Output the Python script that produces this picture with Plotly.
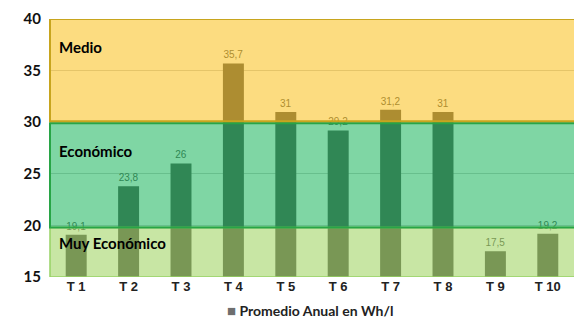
import plotly.graph_objects as go

categories = ["T 1", "T 2", "T 3", "T 4", "T 5", "T 6", "T 7", "T 8", "T 9", "T 10"]
values = [19.1, 23.8, 26, 35.7, 31, 29.2, 31.2, 31, 17.5, 19.2]
series_name = "Promedio Anual en Wh/l"
band_names = ["Medio", "Económico", "Muy Económico"]
band_ranges = [(30, 40), (19.8, 30), (15, 19.8)]
band_label_y = [37.3, 27.2, 18.3]
y_ticks = [15, 20, 25, 30, 35, 40]

band_fill = ["rgba(250,188,12,0.52)", "rgba(10,176,81,0.52)", "rgba(150,207,81,0.52)"]
band_line = ["rgb(200,165,30)", "rgb(40,165,70)", "rgb(150,210,100)"]

FONT = "Lato, 'Open Sans', sans-serif"
TICKFONT = "'Liberation Sans Narrow', 'Arial Narrow', 'Liberation Sans', sans-serif"
BAR_GRAY = "rgb(90,90,90)"

fig = go.Figure()
fig.add_trace(go.Bar(
    x=categories, y=values, name=series_name,
    marker=dict(color=BAR_GRAY, line=dict(width=0)),
    text=[str(v).replace(".", ",") for v in values], textposition="outside",
    textfont=dict(size=10, color=BAR_GRAY, family="Liberation Sans"),
    cliponaxis=False, showlegend=False,
))

shapes = []
for (y0, y1), fc in zip(band_ranges, band_fill):
    shapes.append(dict(type="rect", xref="paper", yref="y", x0=0, x1=1, y0=y0, y1=y1,
                       fillcolor=fc, line=dict(width=0), layer="above"))
shapes.append(dict(type="rect", xref="paper", yref="y", x0=0, x1=1.01, y0=15, y1=19.8,
                   fillcolor="rgba(0,0,0,0)", line=dict(color=band_line[2], width=1.5), layer="above"))
shapes.append(dict(type="rect", xref="paper", yref="y", x0=0, x1=1.01, y0=19.8, y1=29.9,
                   fillcolor="rgba(0,0,0,0)", line=dict(color=band_line[1], width=2), layer="above"))
shapes.append(dict(type="rect", xref="paper", yref="y", x0=0, x1=1.01, y0=30.1, y1=40,
                   fillcolor="rgba(0,0,0,0)", line=dict(color=band_line[0], width=2), layer="above"))

annotations = []
for name, yy in zip(band_names, band_label_y):
    annotations.append(dict(text=name, xref="paper", yref="y", x=0.013, y=yy,
                            xanchor="left", yanchor="middle", showarrow=False,
                            font=dict(size=15, color="black", family=FONT, weight="bold")))
annotations.append(dict(text=f"<span style='color:rgb(110,110,110);font-size:15px'>■</span> {series_name}",
                        xref="paper", yref="paper", x=0.497, y=-0.085,
                        xanchor="center", yanchor="top", showarrow=False,
                        font=dict(size=14, color="#222", family=FONT, weight="bold")))

fig.update_layout(
    width=574, height=324,
    margin=dict(l=50, r=0, t=19, b=47),
    paper_bgcolor="white", plot_bgcolor="white",
    separators=",.",
    bargap=0.6,
    shapes=shapes,
    annotations=annotations,
    showlegend=False,
    xaxis=dict(tickfont=dict(size=13, color="#222", family=TICKFONT, weight="bold"), showgrid=False,
               showline=False, ticks=""),
    yaxis=dict(range=[15, 40], tickvals=y_ticks, showgrid=True, gridcolor="#d0d0d0",
               gridwidth=1, zeroline=False, showline=False, ticks="",
               ticklabelstandoff=8,
               tickfont=dict(size=15, color="#111", family=FONT, weight="bold")),
)

fig.write_html("out.html")
